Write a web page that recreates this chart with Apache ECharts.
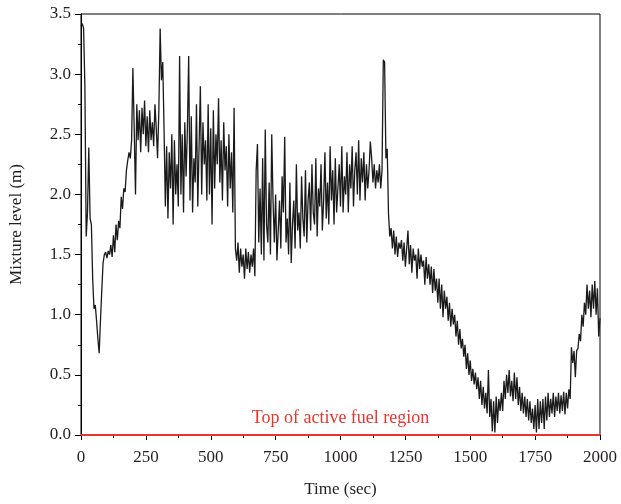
<!DOCTYPE html>
<html>
<head>
<meta charset="utf-8">
<script src="https://cdn.jsdelivr.net/npm/echarts@6/dist/echarts.min.js"></script>
<style>
  html, body { margin: 0; padding: 0; background: #fff; }
  #chart { width: 621px; height: 504px; }
</style>
</head>
<body>
<div id="chart"></div>
<script>
// Sampling step of the level record (seconds)
const timeStep = 5;

// Mixture level (m), one value every 5 s from 0 to 2000 s
const mixtureLevel = [
  3.40, 3.42, 3.38, 2.90, 1.65, 1.85, 2.39, 1.80, 1.75, 1.30, 1.05, 1.08, 0.95, 0.80, 0.68, 0.95, 1.20, 1.43, 1.50, 1.52,
  1.47, 1.53, 1.50, 1.58, 1.48, 1.66, 1.52, 1.75, 1.62, 1.78, 1.72, 1.98, 1.88, 2.05, 2.02, 2.20, 2.28, 2.35, 2.30, 2.45,
  3.05, 2.55, 2.00, 2.75, 2.45, 2.70, 2.35, 2.72, 2.50, 2.78, 2.40, 2.65, 2.35, 2.70, 2.45, 2.60, 2.40, 2.75, 2.55, 2.30,
  2.70, 3.38, 2.95, 3.10, 2.55, 1.90, 2.40, 1.80, 2.35, 2.05, 2.50, 1.75, 2.45, 2.00, 2.25, 1.90, 3.15, 2.00, 2.50, 1.85,
  2.60, 2.15, 2.55, 3.15, 1.95, 2.65, 1.85, 2.30, 2.10, 2.75, 1.90, 2.40, 2.90, 2.00, 2.60, 2.25, 2.45, 1.95, 2.75, 2.00,
  2.55, 1.75, 2.70, 2.05, 2.50, 2.25, 2.80, 2.10, 2.45, 1.95, 2.60, 2.20, 2.40, 1.90, 2.50, 2.05, 2.35, 1.85, 2.72, 1.55,
  1.45, 1.60, 1.35, 1.55, 1.40, 1.50, 1.30, 1.55, 1.38, 1.52, 1.35, 1.50, 1.40, 1.55, 1.32, 2.20, 2.42, 1.60, 2.05, 1.50,
  2.30, 1.45, 2.54, 1.75, 1.60, 2.10, 1.50, 2.50, 1.95, 1.60, 2.00, 1.45, 1.70, 1.95, 1.55, 2.15, 1.85, 2.48, 1.60, 1.80,
  1.50, 2.10, 1.43, 1.75, 1.95, 1.55, 2.25, 1.70, 1.85, 1.55, 2.15, 1.80, 1.65, 2.20, 1.60, 1.95, 2.10, 1.70, 2.25, 1.85,
  1.75, 2.30, 1.65, 2.05, 1.90, 2.25, 1.70, 1.95, 2.35, 1.80, 2.10, 1.75, 2.40, 1.95, 2.20, 1.75, 2.30, 1.85, 2.05, 2.25,
  1.90, 2.40, 1.85, 2.15, 2.00, 2.35, 1.85, 2.25, 2.05, 2.40, 1.90, 2.20, 2.35, 2.00, 2.45, 1.95, 2.30, 2.10, 2.35, 1.95,
  2.25, 2.05, 2.20, 2.44, 2.30, 2.10, 2.25, 2.05, 2.20, 2.10, 2.25, 2.05, 2.20, 3.12, 3.10, 2.30, 2.38, 1.84, 1.65, 1.72,
  1.55, 1.70, 1.50, 1.65, 1.48, 1.60, 1.55, 1.62, 1.45, 1.60, 1.40, 1.55, 1.70, 1.42, 1.58, 1.35, 1.55, 1.45, 1.50, 1.30,
  1.55, 1.38, 1.50, 1.40, 1.45, 1.25, 1.48, 1.30, 1.42, 1.25, 1.40, 1.18, 1.38, 1.20, 1.30, 1.10, 1.30, 1.05, 1.25, 0.98,
  1.20, 1.05, 1.15, 0.95, 1.10, 0.90, 1.05, 0.92, 1.00, 0.82, 0.95, 0.75, 0.88, 0.72, 0.80, 0.65, 0.75, 0.55, 0.68, 0.50,
  0.62, 0.45, 0.55, 0.42, 0.52, 0.38, 0.48, 0.30, 0.45, 0.25, 0.40, 0.22, 0.35, 0.18, 0.54, 0.15, 0.30, 0.03, 0.28, 0.02,
  0.32, 0.10, 0.30, 0.20, 0.35, 0.20, 0.45, 0.30, 0.50, 0.35, 0.54, 0.32, 0.45, 0.28, 0.52, 0.30, 0.48, 0.25, 0.40, 0.20,
  0.35, 0.18, 0.32, 0.15, 0.30, 0.12, 0.28, 0.10, 0.22, 0.05, 0.25, 0.02, 0.30, 0.05, 0.28, 0.10, 0.30, 0.05, 0.32, 0.12,
  0.35, 0.15, 0.30, 0.18, 0.35, 0.15, 0.32, 0.20, 0.35, 0.18, 0.33, 0.20, 0.36, 0.17, 0.35, 0.22, 0.38, 0.30, 0.73, 0.60,
  0.70, 0.48, 0.70, 0.72, 0.84, 0.78, 1.00, 0.90, 1.10, 1.00, 1.25, 1.05, 1.20, 0.98, 1.25, 1.05, 1.28, 1.00, 1.22, 0.82,
  0.97
];

// Reference level: top of the active fuel
const fuelTopLevel = 0;
const fuelTopLabel = 'Top of active fuel region';

const xTicks = { min: 0, max: 2000, interval: 250 };
const yTicks = { min: 0, max: 3.5, interval: 0.5 };

const levelData = mixtureLevel.map((v, i) => [i * timeStep, v]);

const serif = '"Liberation Serif", "DejaVu Serif", serif';
const ink = '#231f20';
const red = '#e8362f';

const chart = echarts.init(document.getElementById('chart'), null, { renderer: 'canvas' });
chart.setOption({
  animation: false,
  backgroundColor: '#fff',
  grid: {
    left: 80, right: 21, top: 14, bottom: 69,
    show: true, borderColor: '#000', borderWidth: 1, backgroundColor: 'transparent'
  },
  xAxis: {
    type: 'value',
    min: xTicks.min, max: xTicks.max, interval: xTicks.interval,
    name: 'Time (sec)', nameLocation: 'middle', nameGap: 46,
    nameTextStyle: { fontFamily: serif, fontSize: 17, color: ink },
    axisLine: { show: true, onZero: false, lineStyle: { color: '#000', width: 1 } },
    axisTick: { show: true, inside: false, length: 5, lineStyle: { color: '#000' } },
    minorTick: { show: true, splitNumber: 2, length: 3, lineStyle: { color: '#000' } },
    axisLabel: {
      fontFamily: serif, fontSize: 17, color: ink, margin: 14,
      formatter: v => String(v)
    },
    splitLine: { show: false }
  },
  yAxis: {
    type: 'value',
    min: yTicks.min, max: yTicks.max, interval: yTicks.interval,
    name: 'Mixture level (m)', nameLocation: 'middle', nameGap: 56, nameRotate: 90,
    nameTextStyle: { fontFamily: serif, fontSize: 17, color: ink },
    axisLine: { show: true, lineStyle: { color: '#000', width: 1 } },
    axisTick: { show: true, inside: false, length: 6, lineStyle: { color: '#000' } },
    minorTick: { show: true, splitNumber: 2, length: 3, lineStyle: { color: '#000' } },
    axisLabel: {
      fontFamily: serif, fontSize: 17, color: ink, margin: 10,
      formatter: v => v.toFixed(1)
    },
    splitLine: { show: false }
  },
  series: [
    {
      type: 'line',
      data: levelData,
      showSymbol: false,
      lineStyle: { color: '#1a1a1a', width: 1.3 },
      z: 3,
      markLine: {
        silent: true,
        symbol: 'none',
        lineStyle: { color: red, width: 2, type: 'solid' },
        label: {
          show: true,
          position: 'insideMiddleTop',
          distance: 8,
          formatter: fuelTopLabel,
          fontFamily: serif, fontSize: 18, color: red
        },
        data: [{ yAxis: fuelTopLevel }]
      }
    }
  ]
});
</script>
</body>
</html>
